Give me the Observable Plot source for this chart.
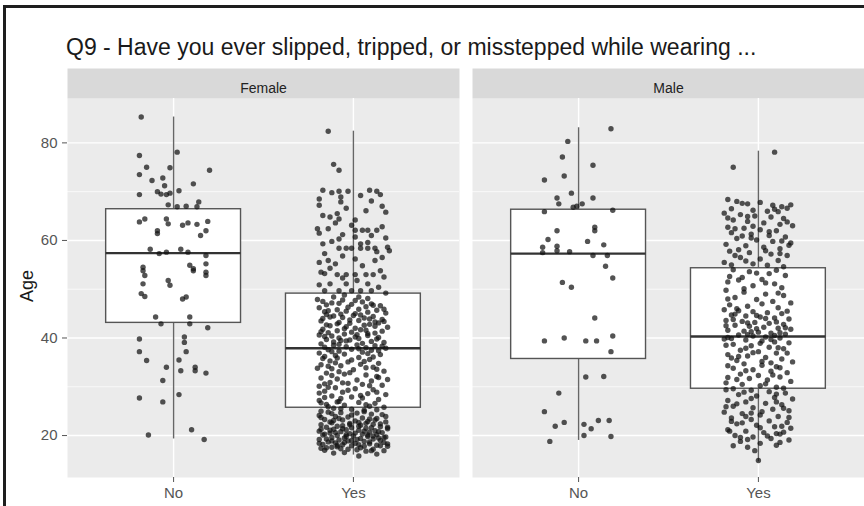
<!DOCTYPE html>
<html><head><meta charset="utf-8">
<script src="https://cdn.jsdelivr.net/npm/d3@7"></script>
<script src="https://cdn.jsdelivr.net/npm/@observablehq/plot@0.6"></script>
<style>
html,body{margin:0;padding:0;background:#fff;}
#wrap{position:relative;width:864px;height:506px;overflow:hidden;font-family:"Liberation Sans",Arial,sans-serif;background:#fff;}
#chart{position:absolute;left:0;top:0;}
#border{position:absolute;left:3px;top:5px;width:900px;height:600px;border-left:3px solid #1e1e1e;border-top:3px solid #1e1e1e;z-index:2;}
#title{position:absolute;left:66px;top:36px;font-size:23px;color:#1a1a1a;white-space:nowrap;line-height:1;z-index:2;}
#ylab{position:absolute;left:27px;top:286px;transform:translate(-50%,-50%) rotate(-90deg);font-size:18px;color:#1a1a1a;z-index:2;}
</style></head>
<body>
<div id="wrap">
  <div id="chart"></div>
  <div id="border"></div>
  <div id="title">Q9 - Have you ever slipped, tripped, or misstepped while wearing ...</div>
  <div id="ylab">Age</div>
</div>
<script>
// ---------- data ----------
const sexes = ["Female", "Male"];
const categories = ["No", "Yes"];
const yTicks = [20, 40, 60, 80];
const yMinorTicks = [30, 50, 70];

// boxplot summary per panel (Female No, Female Yes, Male No, Male Yes)
const boxSex = ["Female", "Female", "Male", "Male"];
const boxGroup = ["No", "Yes", "No", "Yes"];
const lowerWhisker = [19.3, 16.0, 19.0, 14.6];
const q1 = [43.1, 25.7, 35.7, 29.6];
const median = [57.4, 37.9, 57.3, 40.3];
const q3 = [66.4, 49.1, 66.3, 54.3];
const upperWhisker = [85.3, 82.4, 83.1, 78.3];

// jittered respondents: [age, horizontal jitter in hundredths of a category]
const femaleNo = [[85.3,-18],[78.1,2],[77.4,-19],[75.0,-15],[74.9,-2],[74.4,20],[73.5,-19],[72.3,-12],[72.8,-6],[71.2,-5],[71.6,11],[69.4,-19],[70.0,-9],[69.5,-7],[69.4,-4],[69.7,-2],[70.2,3],[67.3,-3],[66.9,2],[67.0,7],[66.9,13],[67.9,14],[63.8,-19],[64.4,-16],[64.4,-4],[63.4,-3],[63.1,5],[63.6,8],[63.3,13],[63.9,19],[62.0,-9],[61.4,-9],[62.0,18],[61.0,15],[58.2,-13],[57.3,-8],[57.6,-4],[58.2,4],[57.6,8],[56.9,18],[54.5,-17],[53.8,-17],[54.9,9],[54.2,11],[55.2,18],[53.5,18],[52.8,-16],[51.1,-17],[51.8,-3],[50.8,-2],[53.8,11],[52.8,18],[49.1,-18],[48.5,-16],[48.0,5],[48.4,7],[44.3,-10],[42.9,-7],[44.3,9],[42.9,9],[42.1,19],[39.8,-19],[40.2,6],[39.1,6],[37.2,-19],[37.2,7],[35.4,-15],[35.5,3],[34.0,-4],[33.3,4],[34.0,12],[33.3,12],[32.8,18],[31.3,-6],[28.4,3],[27.7,-19],[26.9,-6],[20.1,-14],[21.2,10],[19.2,17]];

const femaleYes = [[82.4,-14],[75.6,-11],[74.4,-8],[70.3,-17],[70.1,-8],[68.9,-7],[70.1,-3],[70.3,9],[70.1,13],[69.4,15],[67.2,-19],[67.9,-7],[67.0,16],[64.8,-13],[65.5,-9],[64.4,-8],[64.2,1],[62.4,-20],[62.4,-14],[62.1,1],[62.1,5],[62.1,8],[62.1,13],[59.3,-17],[60.3,-8],[60.7,1],[59.3,4],[58.6,19],[57.9,20],[58.4,-8],[58.4,-4],[58.4,-1],[58.4,4],[58.4,8],[58.4,12],[57.3,-16],[55.9,-14],[55.2,-10],[56.2,1],[55.9,12],[53.5,-18],[53.2,-16],[53.0,-9],[53.0,-4],[53.0,1],[53.0,7],[53.0,11],[51.1,-13],[51.1,-4],[51.1,8],[52.5,17],[49.7,-16],[49.7,-8],[49.7,-1],[49.7,4],[49.7,10],[48.4,-11],[48.4,3],
[47.5,-17],[47.2,-12],[47.8,-6],[46.9,-1],[47.4,5],[47.0,10],[46.6,15],[46.2,-19],[45.8,-9],[45.5,-4],[45.9,3],[45.3,8],[45.7,13],[45.1,18],
[44.8,-15],[44.5,-11],[44.2,-6],[44.6,0],[44.1,6],[44.4,11],[43.8,16],[43.5,-18],[43.2,-8],[43.0,-2],[43.6,3],[42.8,9],[43.1,14],[42.5,-13],[42.3,-4],[42.6,6],[42.2,19],
[41.8,-17],[41.5,-9],[41.2,-1],[41.7,4],[41.0,12],[41.4,16],[40.6,-19],[40.4,-12],[40.8,-5],[40.2,1],[40.5,8],[40.1,14],[39.7,-15],[39.5,-7],[39.9,3],[39.3,10],[39.1,17],[39.6,-2],
[38.8,-18],[38.5,-11],[38.2,-4],[38.6,2],[38.0,7],[38.4,12],[37.9,18],[37.6,-14],[37.3,-8],[37.7,-1],[37.1,5],[37.5,10],[36.9,-19],[36.7,-5],[36.6,15],
[36.2,-16],[35.9,-9],[36.0,3],[35.6,9],[35.3,-13],[35.1,-3],[34.8,14],[34.5,-18],[34.3,-7],[34.6,4],[34.0,11],[33.7,-12],[33.5,0],[33.2,17],[33.8,-20],
[32.8,-15],[32.6,-5],[32.4,7],[32.1,13],[31.8,-18],[31.6,-9],[31.4,2],[31.2,10],[30.9,-13],[30.7,-3],[30.5,5],[30.3,16],[30.1,-19],
[29.8,-10],[29.6,1],[29.4,11],[29.1,-16],[28.9,-6],[28.6,8],[28.4,18],[28.1,-12],[27.9,-1],[27.7,5],[27.4,14],[27.2,-19],[27.0,-8],
[26.8,3],[26.6,12],[26.4,-15],[26.2,-5],[26.0,9],[25.8,17],[25.6,-11],[25.4,-1],[25.2,6],[25.0,-18],
[24.8,-14],[24.7,-7],[24.6,2],[24.4,10],[24.3,16],[24.1,-19],[23.9,-10],[23.8,-3],[23.6,5],[23.5,13],[23.3,-16],[23.2,-6],[23.0,1],[22.9,8],[22.8,18],[22.6,-12],[22.5,-2],[22.3,11],[22.2,-18],[22.1,4],
[21.9,-9],[21.8,15],[21.7,-15],[21.6,-1],[21.5,7],[21.4,19],[21.3,-11],[21.2,-4],[21.1,3],[21.0,12],[20.9,-19],[20.8,-7],[20.7,9],[20.6,16],[20.5,-13],[20.4,-2],[20.3,5],[20.2,13],[20.1,-17],[20.0,-9],[19.9,0],[19.8,8],[19.7,18],[19.6,-12],[19.5,-5],[19.4,4],[19.3,11],[19.2,-19],[19.1,-8],[19.0,15],
[18.9,-3],[18.8,6],[18.7,-14],[18.6,17],[18.5,-10],[18.4,1],[18.3,9],[18.2,-17],[18.1,-6],[18.0,13],[17.9,-1],[17.8,19],[17.6,-12],[17.5,4],[17.3,-7],[17.2,11],[17.0,-16],[16.8,7],[15.8,3],
[23.7,-18],[23.4,9],[23.1,-11],[22.7,3],[22.4,15],[22.0,-6],[21.6,10],[21.3,-18],[20.9,6],[20.6,-10],[20.2,-4],[19.9,11],[19.6,17],[19.3,-15],[19.0,-1],[18.7,9],[18.4,-19],[18.1,3],[17.9,15],[17.7,-9],[17.4,-18],[17.1,2],[16.9,17],[16.5,-5],
[46.8,-15],[46.4,7],[45.6,-14],[45.0,1],[44.0,-17],[43.3,12],[42.9,-9],[42.0,1],[41.1,-14],[40.9,8],[40.0,-8],[39.2,-11],[38.9,5],[38.3,16],[37.2,-12],[36.8,8],
[35.5,-1],[34.9,-10],[33.9,7],[32.9,-2],[31.9,14],[30.8,-6],[29.9,-14],[28.9,13],[27.8,-16],[26.9,-9],[25.9,-14],[25.3,13],
[69.8,-12],[69.2,4],[68.5,-19],[68.1,10],[66.6,-4],[66.1,7],[65.8,18],[65.1,-17],[63.6,-10],[63.1,-1],[62.8,16],[61.5,-19],[61.2,-6],[61.0,10],[60.5,18],[59.8,-12],[59.6,8],[57.7,13],[56.8,-6],[56.5,16],[55.5,-19],[54.8,5],[54.3,-13],[53.8,15],[52.3,-6],[51.8,2],[50.9,-19],[50.4,14],[49.2,18],[48.8,-5],[48.1,8],[47.9,-20],
[47.7,1],[47.1,-8],[46.7,11],[46.3,-3],[45.9,17],[45.4,-16],[44.9,-7],[44.7,4],[44.3,-13],[43.9,9],[43.7,-2],[43.4,17],[42.7,-15],[42.4,12],[41.9,-5],[41.6,7],[41.3,-18],[40.7,2],[40.3,-16],[39.8,13],[39.4,-4],[38.7,-8],[38.1,-16],[37.8,3],[37.4,14],[36.4,-10],[36.1,11],
[35.8,-17],[35.2,6],[34.2,-14],[33.6,13],[33.1,-8],[32.3,-12],[31.5,19],[30.6,-16],[30.2,9],[29.3,-3],[28.7,-19],[28.2,4],[27.6,-7],[26.7,-18],[26.3,7],[25.5,-7],
[24.9,6],[24.5,-12],[24.2,-1],[23.9,18],[23.5,-8],[23.2,12],[22.8,-13],[22.5,7],[22.2,-2],[21.9,3],[21.7,19],[21.4,-6],[21.1,-13],[20.8,14],[20.5,1],[20.3,-16],[20.1,8],[19.8,-4],[19.5,14],[19.2,2],[18.9,-12],[18.6,-5],[18.3,19],[18.0,-9],[17.8,6],[17.5,-15],[17.2,-3],[16.9,10],[16.4,-11],[16.2,13]];

const maleNo = [[82.9,18],[80.3,-6],[77.1,-9],[75.4,8],[72.4,-19],[73.2,-8],[69.7,-4],[68.7,8],[68.7,-12],[67.5,-11],[66.8,-3],[67.0,-1],[67.5,2],[65.9,-19],[66.2,19],[62.0,-12],[62.7,9],[62.0,9],[60.2,-17],[59.8,5],[59.1,14],[58.6,-20],[57.5,-20],[58.8,-12],[57.9,-12],[57.7,-5],[56.9,8],[56.9,16],[54.7,15],[52.3,19],[51.4,-9],[50.4,-4],[44.1,9],[39.4,-19],[40.0,-8],[39.4,4],[39.4,10],[40.4,19],[37.2,18],[32.0,4],[32.1,14],[28.7,-11],[24.9,-19],[21.9,-13],[22.7,-8],[22.3,3],[21.4,7],[23.1,11],[23.1,17],[20.0,3],[19.8,18],[18.8,-16]];

const maleYes = [[78.1,9],[75.0,-14],
[68.4,-17],[68.0,-12],[67.5,-6],[67.8,1],[67.2,8],[66.9,13],[67.3,18],[66.5,-15],[66.2,-3],[66.6,16],[66.0,5],
[65.6,-19],[65.3,-10],[65.0,-2],[64.8,7],[64.5,14],[64.2,-14],[63.9,-6],[63.6,3],[63.3,12],[63.0,19],[62.7,-17],[62.5,-8],[62.2,1],[62.0,10],
[61.6,-15],[61.3,-4],[61.0,6],[60.7,15],[60.4,-12],[60.1,-1],[59.8,8],[59.5,18],[59.2,-18],[58.9,-7],[58.6,3],[58.3,12],
[57.8,-16],[57.5,-5],[57.2,7],[56.9,16],[56.5,-10],[56.2,1],[55.9,11],[55.5,-19],[55.2,-3],[54.9,5],[54.6,14],
[54.0,-14],[53.6,-5],[53.2,6],[52.8,15],[52.4,-9],[52.0,2],[51.5,-17],[51.1,9],[50.7,-3],[50.3,13],
[49.8,-18],[49.4,-8],[49.0,4],[48.7,14],[48.3,-13],[47.9,-1],[47.5,8],[47.2,18],[46.8,-16],[46.5,-6],[46.2,11],
[45.8,-19],[45.6,-11],[45.4,-3],[45.2,5],[45.0,13],[44.7,-15],[44.5,-7],[44.3,1],[44.1,9],[43.9,17],[43.6,-18],[43.4,-9],[43.2,-2],[43.0,6],[42.8,14],
[42.6,-13],[42.4,-5],[42.2,3],[42.0,11],[41.8,18],[41.6,-17],[41.4,-8],[41.2,0],[41.0,7],[40.8,15],[40.6,-11],[40.4,-3],[40.2,4],[40.0,12],[39.8,-19],[39.6,-7],[39.4,2],[39.2,9],[39.0,17],
[38.7,-14],[38.4,-4],[38.1,6],[37.8,14],[37.5,-10],[37.2,0],[36.9,10],[36.6,-17],[36.3,-6],[36.0,4],[35.7,13],[35.4,-12],[35.1,19],
[34.7,-8],[34.4,2],[34.1,10],[33.8,-14],[33.5,-3],[33.2,7],[32.9,16],[32.6,-10],[32.3,0],[32.0,12],[31.7,-5],[31.4,5],[31.1,18],
[30.8,-18],[30.5,-9],[30.2,1],[29.9,10],[29.6,-14],[29.3,-4],[29.0,6],[28.7,15],[28.4,-11],[28.1,-1],[27.8,9],[27.5,19],[27.2,-17],
[26.9,-7],[26.6,4],[26.3,13],[26.0,-14],[25.7,-3],[25.4,8],[25.1,17],[24.8,-19],[24.5,-9],[24.2,1],[23.9,11],[23.6,-15],[23.3,-4],[23.0,6],
[22.7,16],[22.4,-12],[22.1,-1],[21.8,9],[21.5,18],[21.2,-17],[20.9,-7],[20.6,3],[20.3,12],[20.0,-13],[19.7,-3],[19.4,7],[19.1,17],[18.8,-10],
[18.4,1],[18.0,10],[17.6,-6],[16.9,-2],[14.9,0],
[44.9,-13],[44.0,4],[43.1,-6],[42.1,15],[41.3,-4],[40.5,9],[39.9,-15],[38.9,1],[37.9,-7],[36.9,16],[35.9,-15],[34.9,7],[33.9,12],[31.9,-17],[29.7,14],[28.9,-8],[26.9,10],[25.9,-18],[24.9,2],[23.9,-7],[22.9,-15],[21.9,13],[20.9,-16],[20.4,10],[19.9,5],[19.2,-6],[62.9,-3],[60.9,-9],[59.9,13],[57.9,4],[56.9,-13],[65.9,11],[64.9,-6],[53.9,10],[51.9,-11],
[67.6,-9],[66.4,9],[64.6,-17],[63.8,16],[62.4,-13],[61.8,6],[60.5,-4],[59.0,17],[58.1,-11],[57.3,12],[55.8,-7],[55.0,-15],[53.3,-1],[52.6,-16],[51.3,4],[50.1,-8],[49.2,11],[48.0,-17],[47.0,2],[46.0,-12],[45.5,16],[44.6,-1],[43.8,-14],[43.3,10],[42.5,-18],[41.9,-1],[41.1,12],[40.7,-6],[40.1,-17],[39.7,7],[38.5,-18],[38.0,11],[37.0,-3],[36.2,-11],[35.2,2],[34.3,-17],[33.3,-7],[32.4,8],[31.5,-12],[30.6,4],[29.4,-18],[28.5,10],[27.6,-4],[26.5,-12],[25.6,14],[24.6,-4],[23.7,17],[22.6,-9],[21.6,1],[20.7,14],[19.6,-10],[18.6,12],[17.9,-14]];

// ---------- build tables ----------
const pos = g => categories.indexOf(g) + 1;
const boxes = boxSex.map((s, i) => ({
  sex: s, group: boxGroup[i], lo: lowerWhisker[i], q1: q1[i],
  median: median[i], q3: q3[i], hi: upperWhisker[i]
}));
const toRows = (arr, sex, group) => arr.map(([age, j]) => ({sex, group, age, j}));
const points = [
  ...toRows(femaleNo, "Female", "No"),
  ...toRows(femaleYes, "Female", "Yes"),
  ...toRows(maleNo, "Male", "No"),
  ...toRows(maleYes, "Male", "Yes")
];
const halfBox = 0.375;

const chart = Plot.plot({
  width: 864,
  height: 506,
  marginTop: 98,
  marginBottom: 29,
  marginLeft: 67,
  marginRight: 0,
  style: {fontFamily: "'Liberation Sans', Arial, sans-serif", background: "transparent"},
  fx: {domain: sexes, paddingInner: 13 / 405, paddingOuter: 0, axis: null, label: null},
  x: {domain: [0.41, 2.59], axis: null},
  y: {domain: [11.4, 89.1], axis: null},
  marks: [
    Plot.frame({fill: "#ebebeb", stroke: null}),
    Plot.frame({fill: "#d9d9d9", stroke: null, insetTop: -30, insetBottom: 379}),
    Plot.text(sexes, {fx: d => d, text: d => d, frameAnchor: "top", dy: -15, fontSize: 14, fill: "#222"}),
    Plot.gridY(yMinorTicks, {stroke: "white", strokeOpacity: 1, strokeWidth: 0.7}),
    Plot.gridY(yTicks, {stroke: "white", strokeOpacity: 1, strokeWidth: 1.4}),
    Plot.gridX([1, 2], {stroke: "white", strokeOpacity: 1, strokeWidth: 1.4}),
    Plot.axisY({ticks: yTicks, tickSize: 5, tickPadding: 5, fontSize: 15, color: "#555", label: null}),
    Plot.axisX({ticks: [1, 2], tickFormat: d => categories[d - 1], tickSize: 5, tickPadding: 5, fontSize: 15, color: "#555", label: null}),
    Plot.ruleX(boxes, {fx: "sex", x: d => pos(d.group), y1: "lo", y2: "q1", stroke: "#666", strokeWidth: 1.4}),
    Plot.ruleX(boxes, {fx: "sex", x: d => pos(d.group), y1: "q3", y2: "hi", stroke: "#666", strokeWidth: 1.4}),
    Plot.rect(boxes, {fx: "sex", x1: d => pos(d.group) - halfBox, x2: d => pos(d.group) + halfBox, y1: "q1", y2: "q3", fill: "white", stroke: "#555", strokeWidth: 1.4}),
    Plot.ruleY(boxes, {fx: "sex", y: "median", x1: d => pos(d.group) - halfBox, x2: d => pos(d.group) + halfBox, stroke: "#333", strokeWidth: 2.4}),
    Plot.dot(points, {fx: "sex", x: d => pos(d.group) + d.j / 100, y: "age", r: 2.7, fill: "#111", fillOpacity: 0.72, stroke: null})
  ]
});
document.getElementById("chart").appendChild(chart);
</script>
</body></html>
